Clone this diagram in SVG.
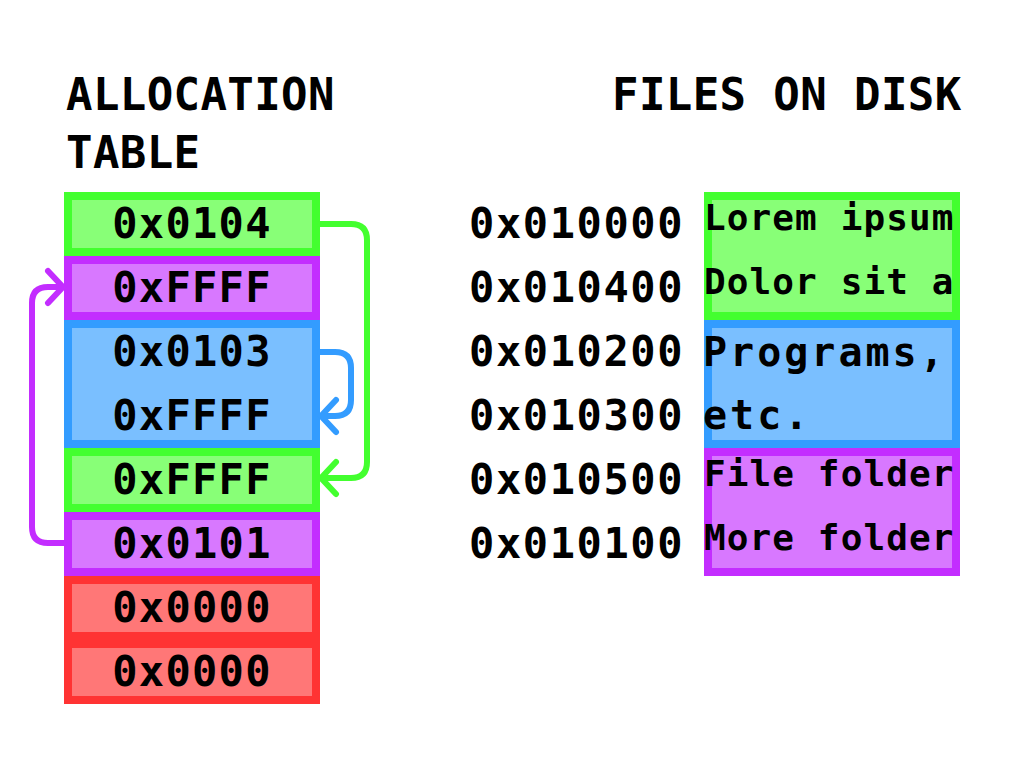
<svg xmlns="http://www.w3.org/2000/svg" width="1024" height="768" viewBox="0 0 1024 768">
<defs>
<style>
.t{font-family:"DejaVu Sans Mono","Liberation Mono",monospace;font-weight:bold;fill:#000}
.title{font-size:44px;letter-spacing:0.4px}
.cell{font-size:42px;letter-spacing:1.3px}
.addr{font-size:42px;letter-spacing:1.6px}
.small{font-size:36px;letter-spacing:1.1px}
.big{font-size:40px;letter-spacing:3px}
.g{fill:#88ff77;stroke:#43ff2f;stroke-width:8}
.p{fill:#d878ff;stroke:#c32dff;stroke-width:8}
.b{fill:#7abfff;stroke:#339cff;stroke-width:8}
.r{fill:#ff7777;stroke:#ff3333;stroke-width:8}
.ln{fill:none;stroke-width:6;stroke-linecap:round;stroke-linejoin:round}
</style>
</defs>
<rect width="1024" height="768" fill="#fff"/>
<g id="titles">
<text class="t title" x="66" y="110">ALLOCATION</text>
<text class="t title" x="66" y="168">TABLE</text>
<text class="t title" x="612" y="110">FILES ON DISK</text>
</g>
<g id="table">
<g id="fat-0"><rect class="g" x="68" y="196" width="248" height="56"/><text class="t cell" x="192" y="238" text-anchor="middle">0x0104</text></g>
<g id="fat-1"><rect class="p" x="68" y="260" width="248" height="56"/><text class="t cell" x="192" y="302" text-anchor="middle">0xFFFF</text></g>
<g id="fat-2"><rect class="b" x="68" y="324" width="248" height="120"/><text class="t cell" x="192" y="366" text-anchor="middle">0x0103</text><text class="t cell" x="192" y="430" text-anchor="middle">0xFFFF</text></g>
<g id="fat-4"><rect class="g" x="68" y="452" width="248" height="56"/><text class="t cell" x="192" y="494" text-anchor="middle">0xFFFF</text></g>
<g id="fat-5"><rect class="p" x="68" y="516" width="248" height="56"/><text class="t cell" x="192" y="558" text-anchor="middle">0x0101</text></g>
<g id="fat-6"><rect class="r" x="68" y="580" width="248" height="56"/><text class="t cell" x="192" y="622" text-anchor="middle">0x0000</text></g>
<g id="fat-7"><rect class="r" x="68" y="644" width="248" height="56"/><text class="t cell" x="192" y="686" text-anchor="middle">0x0000</text></g>
</g>
<g id="addresses">
<text class="t addr" x="469" y="238">0x010000</text>
<text class="t addr" x="469" y="302">0x010400</text>
<text class="t addr" x="469" y="366">0x010200</text>
<text class="t addr" x="469" y="430">0x010300</text>
<text class="t addr" x="469" y="494">0x010500</text>
<text class="t addr" x="469" y="558">0x010100</text>
</g>
<g id="file-lorem"><rect class="g" x="708" y="196" width="248" height="120"/>
<text class="t small" x="704" y="230">Lorem ipsum</text>
<text class="t small" x="704" y="294">Dolor sit a</text></g>
<g id="file-programs"><rect class="b" x="708" y="324" width="248" height="120"/>
<text class="t big" x="703" y="366">Programs,</text>
<text class="t big" x="703" y="429">etc.</text></g>
<g id="file-folder"><rect class="p" x="708" y="452" width="248" height="120"/>
<text class="t small" x="704" y="486">File folder</text>
<text class="t small" x="704" y="550">More folder</text></g>
<g id="connectors">
<path class="ln" stroke="#43ff2f" d="M320,224 H351 Q367,224 367,240 V462 Q367,478 351,478 H322 M336,462 L321,478 L336,494"/>
<path class="ln" stroke="#339cff" d="M320,352 H335 Q351,352 351,368 V400 Q351,416 335,416 H322 M336,400 L321,416 L336,432"/>
<path class="ln" stroke="#c32dff" d="M64,543 H48 Q32,543 32,527 V303 Q32,287 48,287 H62 M48,271 L63,287 L48,303"/>
</g>
</svg>
